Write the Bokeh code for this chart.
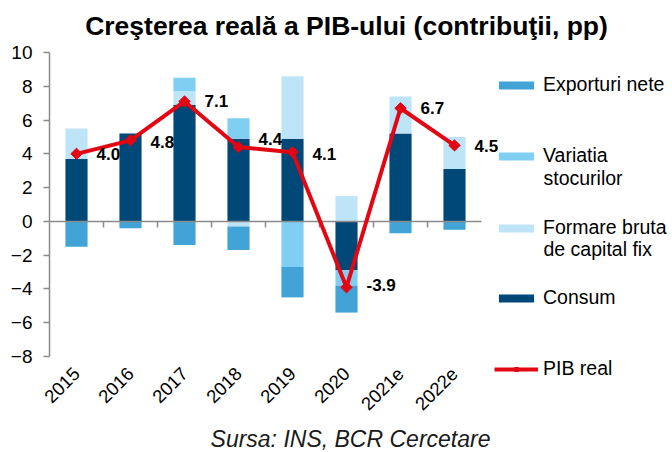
import numpy as np
from math import pi
from bokeh.plotting import figure
from bokeh.models import (Range1d, ColumnDataSource, Label, LabelSet,
                          Legend, LegendItem, FixedTicker)
from bokeh.core.properties import value
from bokeh.embed import file_html
from bokeh.resources import INLINE

# ---------------- data ----------------
years = ["2015", "2016", "2017", "2018", "2019", "2020", "2021e", "2022e"]
consum = [3.7, 5.2, 6.9, 4.9, 4.9, -2.9, 5.2, 3.1]
formare_bruta = [1.8, 0.0, 0.8, -0.3, 3.7, 1.5, 2.2, 1.9]
variatia_stocurilor = [0.0, 0.0, 0.8, 1.2, -2.7, -0.9, 0.0, 0.0]
exporturi_nete = [-1.5, -0.4, -1.4, -1.4, -1.8, -1.6, -0.7, -0.5]
pib_real = [4.0, 4.8, 7.1, 4.4, 4.1, -3.9, 6.7, 4.5]
pib_labels = ["4.0", "4.8", "7.1", "4.4", "4.1", "-3.9", "6.7", "4.5"]
y_ticks = [-8, -6, -4, -2, 0, 2, 4, 6, 8, 10]

title_text = "Creşterea reală a PIB-ului (contribuţii, pp)"
source_text = "Sursa: INS, BCR Cercetare"

# ---------------- styles / layout ----------------
FONT = "Liberation Sans"
C_CONSUM = "#004878"
C_FBCF = "#BEE4F8"
C_STOC = "#80CFF3"
C_EXP = "#41A3D6"
C_RED = "#E30613"
C_AXIS = "#8A8A8A"

W, H = 672, 452
LEFT = 49                 # pixel position of the y axis
PX_PER_Y = 304 / 18.0     # pixels per y unit (10 at y=52px, -8 at y=356px)
PX_PER_X = 54.0           # pixels per category
y_lo = -8 - (H - 356) / PX_PER_Y
y_hi = 10 + 52 / PX_PER_Y
x_lo = -LEFT / PX_PER_X
x_hi = (W - LEFT) / PX_PER_X

p = figure(width=W, height=H, x_range=Range1d(x_lo, x_hi), y_range=Range1d(y_lo, y_hi),
           output_backend="svg", toolbar_location=None, title=None,
           min_border_left=0, min_border_right=0, min_border_top=0, min_border_bottom=0)
p.outline_line_color = None
p.xgrid.grid_line_color = None
p.ygrid.grid_line_color = None
p.background_fill_color = "white"
p.border_fill_color = "white"

xc = np.arange(len(years)) + 0.5

# stacked bars, positive and negative stacks separately
series = [("consum", consum, C_CONSUM), ("fbcf", formare_bruta, C_FBCF),
          ("stoc", variatia_stocurilor, C_STOC), ("exp", exporturi_nete, C_EXP)]
pos = np.zeros(len(years))
neg = np.zeros(len(years))
bar_r = {}
for name, vals, col in series:
    v = np.array(vals, dtype=float)
    bottom = np.where(v >= 0, pos, neg + v)
    top = np.where(v >= 0, pos + v, neg)
    pos = pos + np.clip(v, 0, None)
    neg = neg + np.clip(v, None, 0)
    src = ColumnDataSource(dict(x=xc, bottom=bottom, top=top))
    bar_r[name] = p.vbar(x="x", bottom="bottom", top="top", width=0.41, source=src,
                         fill_color=col, line_color=None)

# zero axis line with ticks between categories
p.segment(x0=[0], x1=[len(years)], y0=[0], y1=[0], line_color=C_AXIS, line_width=1.5)
sep = np.arange(1, len(years))
p.segment(x0=sep, x1=sep, y0=np.zeros(len(sep)), y1=np.full(len(sep), -6 / PX_PER_Y),
          line_color=C_AXIS, line_width=1.5)

# GDP line
line_r = p.line(x=xc, y=pib_real, line_color=C_RED, line_width=4)
mark_r = p.scatter(x=xc, y=pib_real, marker="square", angle=pi / 4, size=8,
                   fill_color=C_RED, line_color=C_RED)

lab_src = ColumnDataSource(dict(x=xc, y=pib_real, t=pib_labels,
                                dy=[0, -2, 0, 8, -2, 2, 0, -1]))
p.add_layout(LabelSet(x="x", y="y", text="t", source=lab_src, x_offset=20, y_offset="dy",
                      text_baseline="middle", text_font=value(FONT), text_font_style="bold",
                      text_font_size="17px", text_color="black"))

# axes (placed inside the frame at fixed data locations)
p.yaxis.fixed_location = 0
p.yaxis.ticker = FixedTicker(ticks=y_ticks)
p.yaxis.bounds = (-8, 10)
p.yaxis.axis_line_color = C_AXIS
p.yaxis.axis_line_width = 1.5
p.yaxis.major_tick_line_color = C_AXIS
p.yaxis.major_tick_line_width = 1.5
p.yaxis.major_tick_out = 6
p.yaxis.major_tick_in = 0
p.yaxis.minor_tick_line_color = None
p.yaxis.major_label_standoff = 11
p.yaxis.major_label_text_font = FONT
p.yaxis.major_label_text_font_size = "19px"
p.yaxis.major_label_text_color = "black"

p.xaxis.fixed_location = -8
p.xaxis.ticker = FixedTicker(ticks=list(xc))
p.xaxis.major_label_overrides = {float(x): y for x, y in zip(xc, years)}
p.xaxis.axis_line_color = None
p.xaxis.major_tick_line_color = None
p.xaxis.minor_tick_line_color = None
p.xaxis.major_label_orientation = pi / 4
p.xaxis.major_label_standoff = 8
p.xaxis.major_label_text_font = FONT
p.xaxis.major_label_text_font_size = "18.5px"
p.xaxis.major_label_text_color = "black"

# title and source (screen units relative to the frame's bottom-left corner)
p.add_layout(Label(x=346, y=H - 25, x_units="screen", y_units="screen",
                   text=title_text, text_align="center", text_baseline="alphabetic",
                   text_font=FONT, text_font_style="bold", text_font_size="26.5px",
                   text_color="black"))
p.add_layout(Label(x=350, y=H - 438, x_units="screen", y_units="screen",
                   text=source_text, text_align="center", text_baseline="alphabetic",
                   text_font=FONT, text_font_style="italic", text_font_size="23px",
                   text_color="#1a1a1a"))

# legend (one legend per entry to control spacing)
entries = [("Exporturi nete", [bar_r["exp"]], 84),
           ("Variatia", [bar_r["stoc"]], 155),
           ("Formare bruta", [bar_r["fbcf"]], 227),
           ("Consum", [bar_r["consum"]], 297),
           ("PIB real", [line_r, mark_r], 368)]
for lbl, rends, cy in entries:
    leg = Legend(items=[LegendItem(label=lbl, renderers=rends)],
                 location=(494, H - cy - 12),
                 padding=0, margin=0, spacing=0, border_line_color=None,
                 background_fill_alpha=0, glyph_width=44, glyph_height=10,
                 label_standoff=5, label_text_font=FONT, label_text_font_size="19.5px",
                 label_text_color="black", label_height=22)
    p.add_layout(leg, "center")

for txt, cy in [("stocurilor", 177), ("de capital fix", 248)]:
    p.add_layout(Label(x=543, y=H - cy, x_units="screen", y_units="screen", text=txt,
                       text_baseline="middle", text_font=FONT, text_font_size="19.5px",
                       text_color="black"))

open("out.html", "w").write(file_html(p, INLINE))
